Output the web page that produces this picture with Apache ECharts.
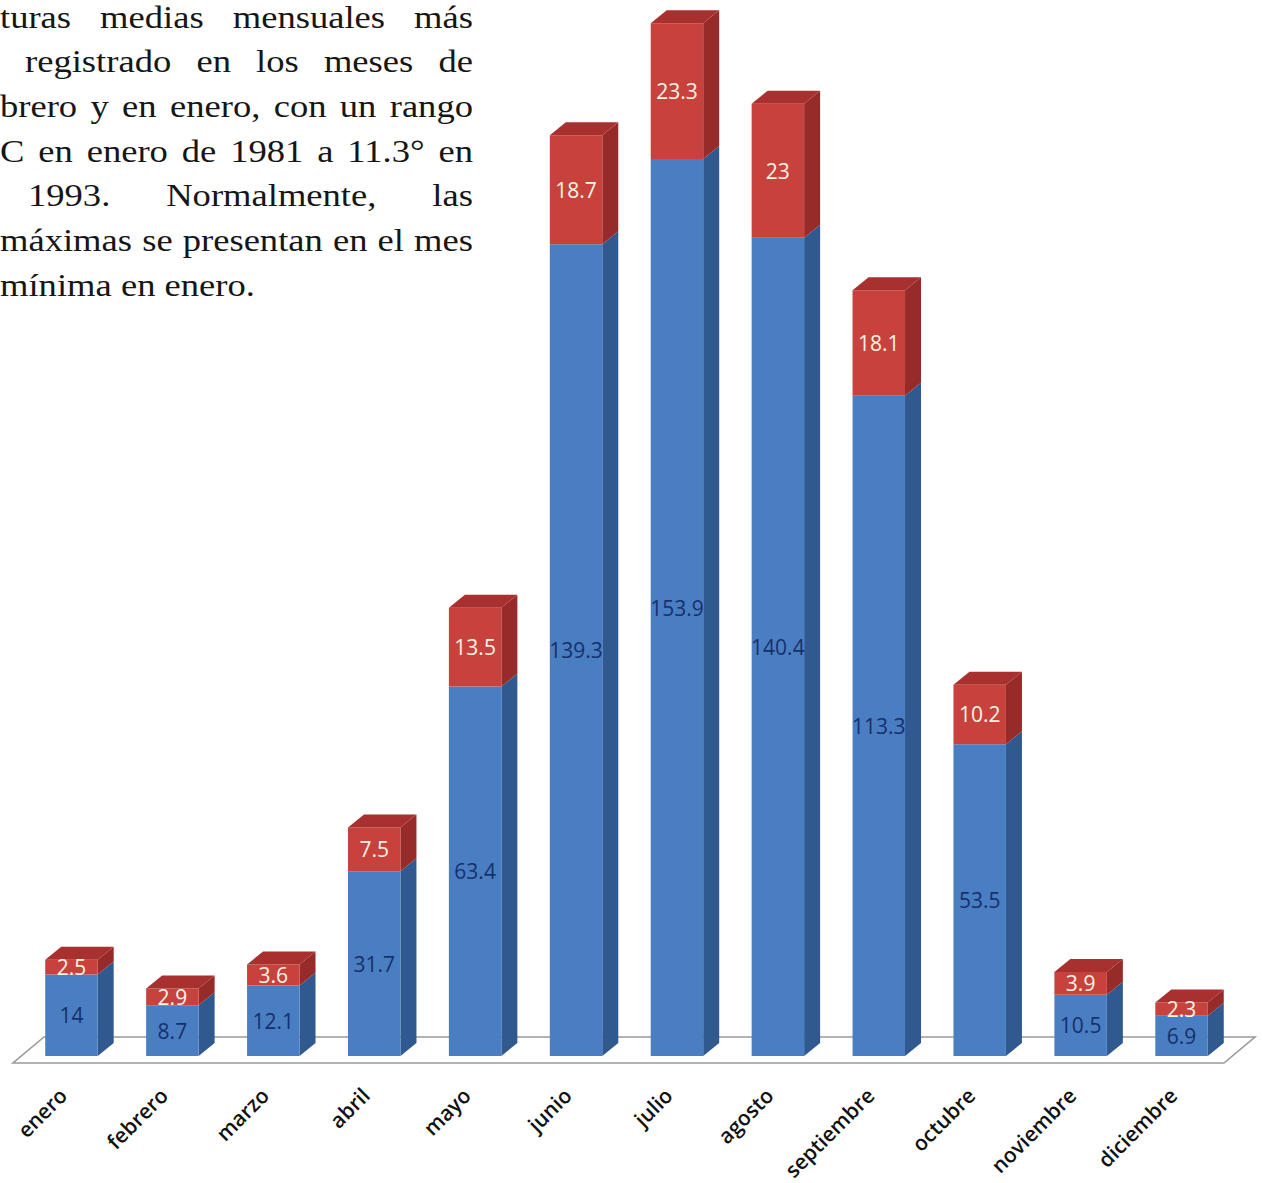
<!DOCTYPE html>
<html>
<head>
<meta charset="utf-8">
<title>Valores mensuales</title>
<script src="https://cdn.jsdelivr.net/npm/echarts@6/dist/echarts.min.js"></script>
<style>
  html, body { margin: 0; padding: 0; background: #fff; }
  #chart { width: 1262px; height: 1183px; }
</style>
</head>
<body>
<div id="chart"></div>
<script>
// datos
const months = ['enero', 'febrero', 'marzo', 'abril', 'mayo', 'junio', 'julio', 'agosto', 'septiembre', 'octubre', 'noviembre', 'diciembre']
const blueValues = [14, 8.7, 12.1, 31.7, 63.4, 139.3, 153.9, 140.4, 113.3, 53.5, 10.5, 6.9]
const redValues = [2.5, 2.9, 3.6, 7.5, 13.5, 18.7, 23.3, 23, 18.1, 10.2, 3.9, 2.3]

// texto del párrafo (recortado a la izquierda en el original)
const paragraphLines = [
  { words: ['turas', 'medias', 'mensuales', 'más'], left: 0, justify: true },
  { words: ['registrado', 'en', 'los', 'meses', 'de'], left: 25, justify: true },
  { words: ['brero', 'y', 'en', 'enero,', 'con', 'un', 'rango'], left: 0, justify: true },
  { words: ['C', 'en', 'enero', 'de', '1981', 'a', '11.3°', 'en'], left: 0, justify: true },
  { words: ['1993.', 'Normalmente,', 'las'], left: 28, justify: true },
  { words: ['máximas', 'se', 'presentan', 'en', 'el', 'mes'], left: 0, justify: true },
  { words: ['mínima', 'en', 'enero.'], left: 0, justify: false }
]

const DX = 16
const DY = -13
const PARA_FAMILY = 'Liberation Serif'
const PARA_SIZE = 31
const PARA_SX = 1.18
const PARA_TOP = 17
const PARA_LEAD = 44.7
const PARA_RIGHT = 473

const ctx = document.createElement('canvas').getContext('2d')
ctx.font = PARA_SIZE + 'px "' + PARA_FAMILY + '", serif'

function paragraphGraphics () {
  const els = []
  paragraphLines.forEach((line, i) => {
    const y = PARA_TOP + i * PARA_LEAD
    const widths = line.words.map(w => ctx.measureText(w).width * PARA_SX)
    const total = widths.reduce((s, v) => s + v, 0)
    let gap = ctx.measureText(' ').width * PARA_SX
    if (line.justify && line.words.length > 1) {
      gap = (PARA_RIGHT - line.left - total) / (line.words.length - 1)
    }
    let x = line.left
    line.words.forEach((w, j) => {
      els.push({
        type: 'text',
        x: x,
        y: y,
        scaleX: PARA_SX,
        style: {
          text: w,
          fontFamily: PARA_FAMILY,
          fontSize: PARA_SIZE,
          fill: '#161616',
          verticalAlign: 'middle'
        }
      })
      x += widths[j] + gap
    })
  })
  return els
}

function boxRenderer (front, side, top, labelColor) {
  return function (params, api) {
    const idx = api.value(0)
    const base = api.value(1)
    const val = api.value(2)
    const p0 = api.coord([idx, base])
    const p1 = api.coord([idx, base + val])
    const w = api.size([1, 0])[0] * 0.52
    const xl = p0[0] - w / 2
    const xr = p0[0] + w / 2
    const yb = p0[1]
    const yt = p1[1]
    const children = [
      {
        type: 'polygon',
        shape: { points: [[xr, yt], [xr + DX, yt + DY], [xr + DX, yb + DY], [xr, yb]] },
        style: { fill: side }
      },
      {
        type: 'rect',
        shape: { x: xl, y: yt, width: w, height: yb - yt },
        style: { fill: front }
      }
    ]
    if (top) {
      children.push({
        type: 'polygon',
        shape: { points: [[xl, yt], [xr, yt], [xr + DX, yt + DY], [xl + DX, yt + DY]] },
        style: { fill: top }
      })
    }
    children.push({
      type: 'text',
      z2: 10,
      style: {
        text: String(val),
        x: p0[0],
        y: (yb + yt) / 2,
        align: 'center',
        verticalAlign: 'middle',
        fontFamily: 'Open Sans',
        fontSize: 21,
        lineHeight: 20,
        fill: labelColor
      }
    })
    return { type: 'group', children: children }
  }
}

const chart = echarts.init(document.getElementById('chart'), null, { renderer: 'svg' })

const option = {
  animation: false,
  backgroundColor: '#fff',
  grid: { left: 21, right: 30, top: 7, bottom: 127, containLabel: false, outerBoundsMode: 'none' },
  xAxis: {
    type: 'category',
    data: months,
    axisLine: { show: false },
    axisTick: { show: false },
    axisLabel: {
      interval: 0,
      rotate: 45,
      margin: 27,
      padding: [0, 12, 0, 0],
      color: '#111',
      fontFamily: 'Open Sans',
      fontWeight: 600,
      fontSize: 21
    }
  },
  yAxis: { type: 'value', min: 0, max: 180, show: false, splitLine: { show: false } },
  graphic: paragraphGraphics(),
  series: [
    {
      type: 'custom',
      name: 'suelo',
      z: 1,
      silent: true,
      data: [[0, 0]],
      encode: { x: 0, y: 1 },
      renderItem: function (params, api) {
        const a = api.coord([0, 0])
        const b = api.coord([months.length - 1, 0])
        const bw = api.size([1, 0])[0]
        const l = a[0] - bw / 2
        const r = b[0] + bw / 2
        const y = a[1]
        return {
          type: 'polygon',
          shape: { points: [[l - 8, y + 7], [r - 8, y + 7], [r + 23, y - 19], [l + 23, y - 19]] },
          style: { fill: '#fff', stroke: '#9a9a9a', lineWidth: 1.6 }
        }
      }
    },
    {
      type: 'custom',
      name: 'azul',
      z: 2,
      clip: false,
      data: months.map((m, i) => [i, 0, blueValues[i]]),
      encode: { x: 0, y: [1, 2] },
      renderItem: boxRenderer('#4a7ec2', '#30598f', null, '#17306b')
    },
    {
      type: 'custom',
      name: 'rojo',
      z: 3,
      clip: false,
      data: months.map((m, i) => [i, blueValues[i], redValues[i]]),
      encode: { x: 0, y: [1, 2] },
      renderItem: boxRenderer('#c7423d', '#972b29', '#a8302e', '#fbf3e4')
    }
  ]
}

chart.setOption(option)
</script>
</body>
</html>
